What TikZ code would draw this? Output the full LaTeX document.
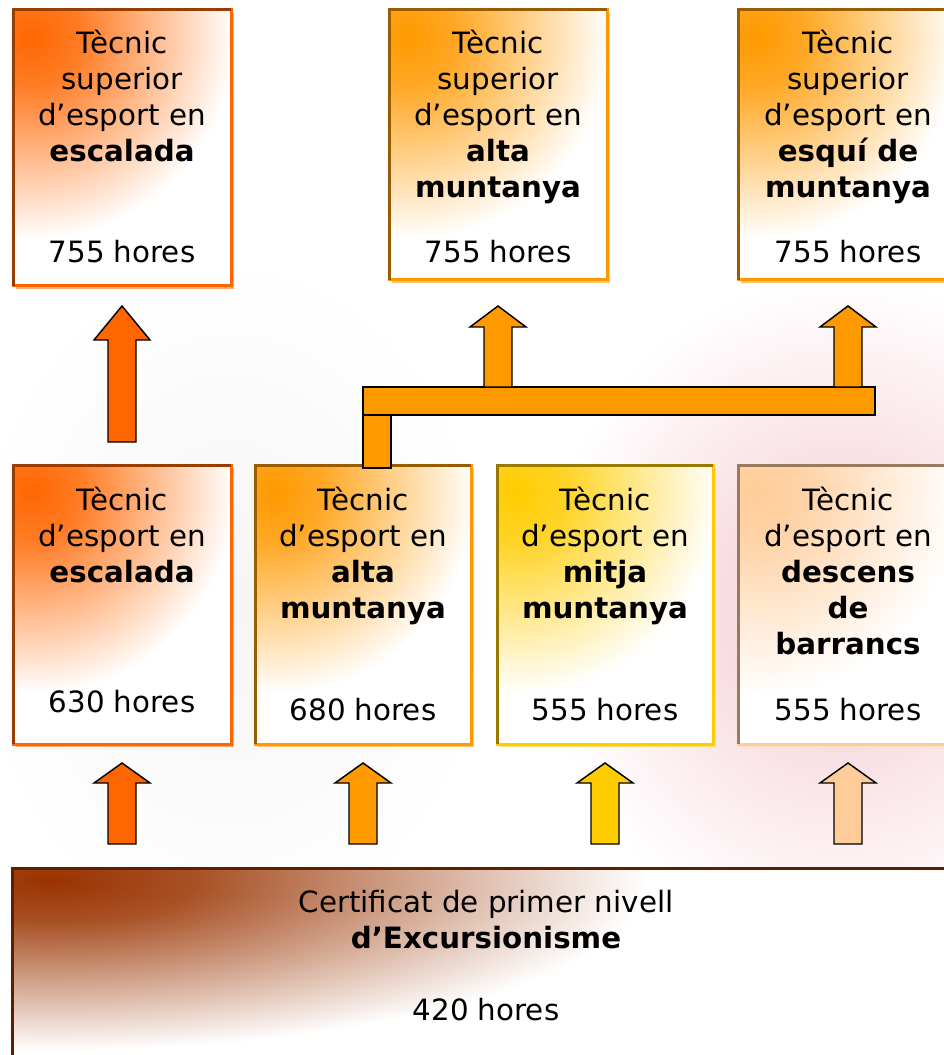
\documentclass[tikz,border=0pt]{standalone}
\usepackage{fontspec}
\setmainfont{DejaVu Sans}
\usetikzlibrary{calc,shadows}
\definecolor{cA}{HTML}{FF6600}
\definecolor{cB}{HTML}{FF9900}
\definecolor{cC}{HTML}{FFCC00}
\definecolor{cD}{HTML}{FFCC99}
\definecolor{cE}{HTML}{993300}
\definecolor{wpink}{HTML}{F4C8D0}
\colorlet{boxcol}{white}
\pgfdeclareradialshading[boxcol]{fadebox}{\pgfpoint{0bp}{0bp}}{color(0bp)=(boxcol); color(5bp)=(boxcol!85!white); color(12bp)=(boxcol!45!white); color(20bp)=(white); color(50bp)=(white)}
\newcommand\fl{\rule{0pt}{18pt}}
\newcommand\blockarrow[4]{%
  \draw[arr, fill=#1] let \p1=(#2), \p2=(#3) in
    (\x1,\y1) -- (\x1+21pt,\y1-#4) -- (\x1+10.5pt,\y1-#4) -- (\x1+10.5pt,\y2)
    -- (\x1-10.5pt,\y2) -- (\x1-10.5pt,\y1-#4) -- (\x1-21pt,\y1-#4) -- cycle;}
\tikzset{
  box/.style={draw=#1, fill=white, line width=2.25pt, inner sep=0pt, outer sep=0pt,
    minimum width=163.5pt,
    path picture={\colorlet{boxcol}{#1}\shade[shading=fadebox]
      ($(path picture bounding box.north west)+(14pt,-20pt)$) circle (190pt);},
    general shadow={fill=#1!55!white, shadow xshift=2.25pt, shadow yshift=-2.25pt}},
  edge/.style={line width=2.25pt, draw=#1!60!black},
  txt/.style={font=\fontsize{22}{27}\selectfont, align=center, inner sep=0pt},
  arr/.style={draw=black, line width=1.1pt, line join=miter},
}
\begin{document}
\begin{tikzpicture}[x=0.75pt, y=-0.75pt]
\useasboundingbox (0,0) rectangle (944,1055);
% faint background watermark
\shade[inner color=wpink, outer color=white] (840,610) ellipse [x radius=225pt, y radius=250pt];
\shade[inner color=gray!8, outer color=white] (230,600) ellipse [x radius=200pt, y radius=260pt];

% top row
\node[box=cA, minimum height=207pt] (s1) at (122,148) {};
\node[box=cB, minimum height=202.5pt] (s2) at (498,145) {};
\node[box=cB, minimum height=202.5pt, minimum width=165pt] (s3) at (848,145) {};
% middle row
\node[box=cA, minimum height=209.25pt] (bA) at (122,604.5) {};
\node[box=cB, minimum height=209.25pt, minimum width=162pt] (bB) at (363,604.5) {};
\node[box=cC, minimum height=209.25pt, minimum width=162pt] (bC) at (605,604.5) {};
\node[box=cD, minimum height=209.25pt, minimum width=165pt] (bD) at (848,604.5) {};
% base
\node[draw=cE, fill=white, line width=2.25pt, inner sep=0pt, outer sep=0pt,
  minimum width=711pt, minimum height=155.25pt,
  general shadow={fill=cE!55!white, shadow xshift=2.25pt, shadow yshift=-2.25pt}]
  (base) at (486,971.5) {};
\begin{scope}
  \clip (base.south west) rectangle (base.north east);
  \colorlet{boxcol}{cE}
  \shade[shading=fadebox] (50,880) ellipse [x radius=560pt, y radius=160pt];
\end{scope}

\foreach \n/\c in {s1/cA,s2/cB,s3/cB,bA/cA,bB/cB,bC/cC,bD/cD}
  \draw[edge=\c] (\n.south west) -- (\n.north west) -- (\n.north east);
\draw[line width=2.25pt, draw=cE] (base.north east) -- (base.south east) -- (base.south west);
\draw[edge=cE] (base.south west) -- (base.north west) -- (base.north east);

% texts
\node[txt, anchor=north] (s1t) at (122,29.5) {\fl Tècnic\\superior\\d’esport en\\\textbf{escalada}};
\node[txt, anchor=base] (s1h) at (122,263) {755 hores};
\node[txt, anchor=north] (s2t) at (498,29.5) {\fl Tècnic\\superior\\d’esport en\\\textbf{alta}\\\textbf{muntanya}};
\node[txt, anchor=base] (s2h) at (498,263) {755 hores};
\node[txt, anchor=north] (s3t) at (848,29.5) {\fl Tècnic\\superior\\d’esport en\\\textbf{esquí de}\\\textbf{muntanya}};
\node[txt, anchor=base] (s3h) at (848,263) {755 hores};

\node[txt, anchor=north] (bAt) at (122,486) {\fl Tècnic\\d’esport en\\\textbf{escalada}};
\node[txt, anchor=base] (bAh) at (122,712) {630 hores};
\node[txt, anchor=north] (bBt) at (363,486) {\fl Tècnic\\d’esport en\\\textbf{alta}\\\textbf{muntanya}};
\node[txt, anchor=base] (bBh) at (363,720) {680 hores};
\node[txt, anchor=north] (bCt) at (605,486) {\fl Tècnic\\d’esport en\\\textbf{mitja}\\\textbf{muntanya}};
\node[txt, anchor=base] (bCh) at (605,720) {555 hores};
\node[txt, anchor=north] (bDt) at (848,486) {\fl Tècnic\\d’esport en\\\textbf{descens}\\\textbf{de}\\\textbf{barrancs}};
\node[txt, anchor=base] (bDh) at (848,720) {555 hores};

\node[txt, anchor=north] (baset) at (486,888) {\fl Certificat de primer nivell\\\textbf{d’Excursionisme}};
\node[txt, anchor=base] (baseh) at (486,1020) {420 hores};

% connectors: block arrows
\blockarrow{cA}{$(s1.south)+(0,20)$}{$(bA.north)+(0,-23)$}{25.5pt}
\coordinate (barsw) at ($(bB.north)+(0,-50)$);
\coordinate (barne) at (875,387);
\draw[arr, fill=cB] ($(bB.north)+(0,3)$) rectangle ($(barsw)+(28,0)$);
\draw[arr, fill=cB] (barsw) rectangle (barne);
\blockarrow{cB}{$(s2.south)+(0,26)$}{s2.south |- barne}{15.75pt}
\blockarrow{cB}{$(s3.south)+(0,26)$}{s3.south |- barne}{15.75pt}

\coordinate (arrbase) at ($(base.north)+(0,-24)$);
\blockarrow{cA}{$(bA.south)+(0,19)$}{bA.south |- arrbase}{15pt}
\blockarrow{cB}{$(bB.south)+(0,19)$}{bB.south |- arrbase}{15pt}
\blockarrow{cC}{$(bC.south)+(0,19)$}{bC.south |- arrbase}{15pt}
\blockarrow{cD}{$(bD.south)+(0,19)$}{bD.south |- arrbase}{15pt}
\end{tikzpicture}
\end{document}
